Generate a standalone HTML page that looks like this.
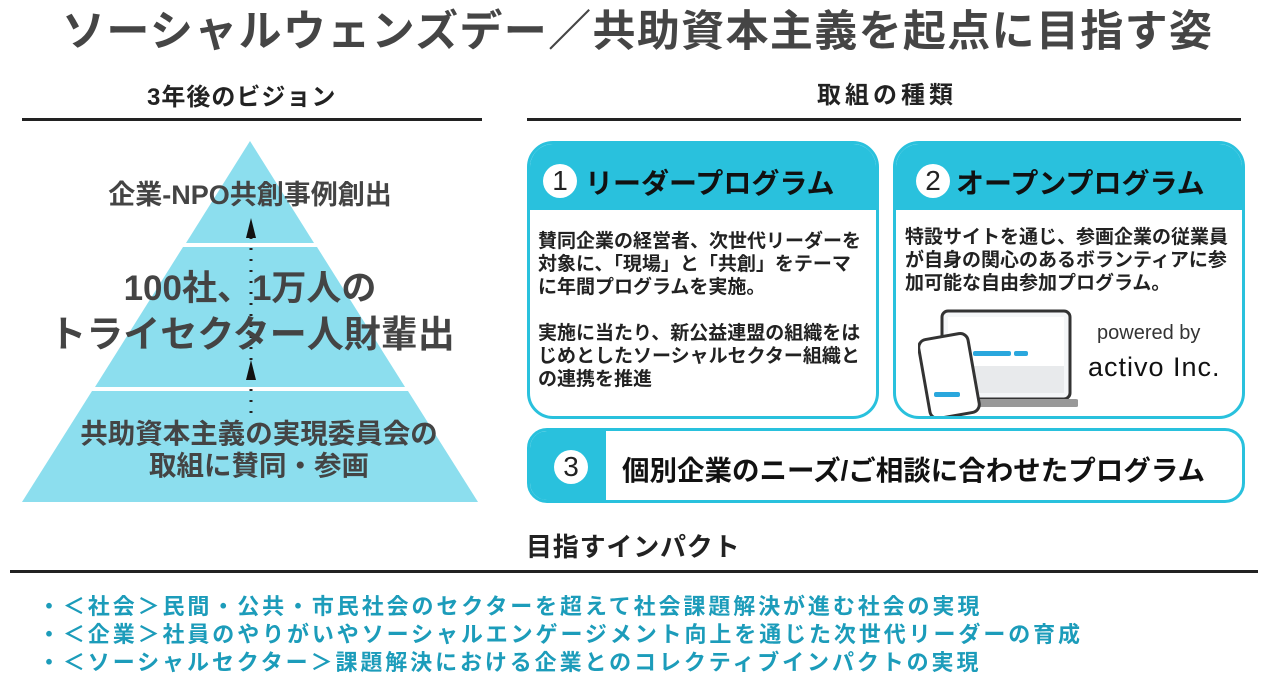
<!DOCTYPE html>
<html><head><meta charset="utf-8"><style>
*{margin:0;padding:0;box-sizing:border-box}
body{width:1268px;height:680px;background:#fff;position:relative;overflow:hidden;font-family:"Liberation Sans","Noto Sans CJK JP",sans-serif;font-weight:bold}
.a{position:absolute;white-space:nowrap}
.c{text-align:center}
.box{position:absolute;border:3px solid #29c1dd;border-radius:26px;overflow:hidden;background:#fff}
.hdr{position:absolute;left:0;top:0;right:0;background:#29c1dd}
.num{position:absolute;width:34px;height:34px;border-radius:50%;background:#fff;color:#222;font-weight:normal;font-size:28px;line-height:34px;text-align:center}
.body{font-size:19px;line-height:23px;color:#222}
.bl{font-size:22px;color:#1c9cba;letter-spacing:2.9px}
</style></head><body>
<div class="a" style="left:62px;top:-3px;font-size:43px;color:#454545;letter-spacing:1.35px">ソーシャルウェンズデー／共助資本主義を起点に目指す姿</div>

<div class="a" style="left:147px;top:77px;font-size:24px;color:#222;letter-spacing:1px">3年後のビジョン</div>
<div class="a" style="left:22px;top:118px;width:460px;height:3px;background:#222"></div>
<div class="a" style="left:817px;top:75px;font-size:24px;color:#222;letter-spacing:4px">取組の種類</div>
<div class="a" style="left:527px;top:118px;width:714px;height:3px;background:#222"></div>

<svg class="a" style="left:0;top:0" width="500" height="520">
<polygon points="250,141 314,243 186,243" fill="#8cdeee"/>
<polygon points="183,247 317,247 405,387 95,387" fill="#8cdeee"/>
<polygon points="92,391 408,391 478,502 22,502" fill="#8cdeee"/>
<line x1="251" y1="237" x2="251" y2="360" stroke="#222" stroke-width="3" stroke-dasharray="2,9"/>
<line x1="251" y1="378" x2="251" y2="420" stroke="#222" stroke-width="3" stroke-dasharray="2,9"/>
<polygon points="251,218 246,238 256,238" fill="#111"/>
<polygon points="251,360 246,380 256,380" fill="#111"/>
</svg>
<div class="a c" style="left:0;width:500px;top:173px;font-size:27px;color:#444">企業-NPO共創事例創出</div>
<div class="a c" style="left:0;width:500px;top:260px;font-size:35px;color:#444">100社、1万人の</div>
<div class="a c" style="left:0;width:504px;top:304px;font-size:37px;color:#444">トライセクター人財輩出</div>
<div class="a c" style="left:0;width:518px;top:418px;font-size:27.5px;color:#444;line-height:32px">共助資本主義の実現委員会の<br>取組に賛同・参画</div>

<div class="box" style="left:527px;top:141px;width:352px;height:278px">
<div class="hdr" style="height:66px"></div>
<div class="num" style="left:13px;top:20px">1</div>
<div class="a" style="left:55px;top:18px;font-size:28px;color:#111">リーダープログラム</div>
<div class="a body" style="left:8px;top:86px">賛同企業の経営者、次世代リーダーを<br>対象に、「現場」と「共創」をテーマ<br>に年間プログラムを実施。<br><br>実施に当たり、新公益連盟の組織をは<br>じめとしたソーシャルセクター組織と<br>の連携を推進</div>
</div>

<div class="box" style="left:893px;top:141px;width:352px;height:278px">
<div class="hdr" style="height:66px"></div>
<div class="num" style="left:20px;top:20px">2</div>
<div class="a" style="left:60px;top:18px;font-size:28px;color:#111">オープンプログラム</div>
<div class="a body" style="left:9px;top:82px">特設サイトを通じ、参画企業の従業員<br>が自身の関心のあるボランティアに参<br>加可能な自由参加プログラム。</div>
<svg class="a" style="left:22px;top:162px" width="160" height="115">
<rect x="24" y="5" width="128" height="88" rx="6" fill="#f4f6f8" stroke="#333" stroke-width="3"/>
<rect x="30" y="11" width="116" height="76" fill="#fff"/>
<rect x="30" y="60" width="116" height="27" fill="#e8eaec"/>
<rect x="55" y="45" width="38" height="5" rx="2" fill="#2aa7dd"/>
<rect x="96" y="45" width="14" height="5" rx="2" fill="#2aa7dd"/>
<rect x="15" y="93" width="146" height="8" rx="3" fill="#999"/>
<rect x="6" y="30" width="50" height="80" rx="8" fill="#fff" stroke="#333" stroke-width="3" transform="rotate(-10 31 70)"/>
<rect x="16" y="86" width="26" height="5" rx="2" fill="#2aa7dd"/>
</svg>
<div class="a" style="left:201px;top:178px;font-size:20px;font-weight:normal;color:#333">powered by</div>
<div class="a" style="left:192px;top:208px;font-size:27px;font-weight:normal;color:#111;letter-spacing:1px">activo Inc.</div>
</div>

<div class="box" style="left:527px;top:428px;width:718px;height:75px;border-radius:20px">
<div class="hdr" style="bottom:0;width:76px;right:auto"></div>
<div class="num" style="left:24px;top:19px">3</div>
<div class="a" style="left:92px;top:17px;font-size:27.5px;color:#111">個別企業のニーズ/ご相談に合わせたプログラム</div>
</div>

<div class="a" style="left:526px;top:527px;font-size:26px;color:#222;letter-spacing:0.8px">目指すインパクト</div>
<div class="a" style="left:10px;top:570px;width:1248px;height:3px;background:#222"></div>
<div class="a bl" style="left:38px;top:589px">・＜社会＞民間・公共・市民社会のセクターを超えて社会課題解決が進む社会の実現</div>
<div class="a bl" style="left:38px;top:617px">・＜企業＞社員のやりがいやソーシャルエンゲージメント向上を通じた次世代リーダーの育成</div>
<div class="a bl" style="left:38px;top:645px">・＜ソーシャルセクター＞課題解決における企業とのコレクティブインパクトの実現</div>
</body></html>
